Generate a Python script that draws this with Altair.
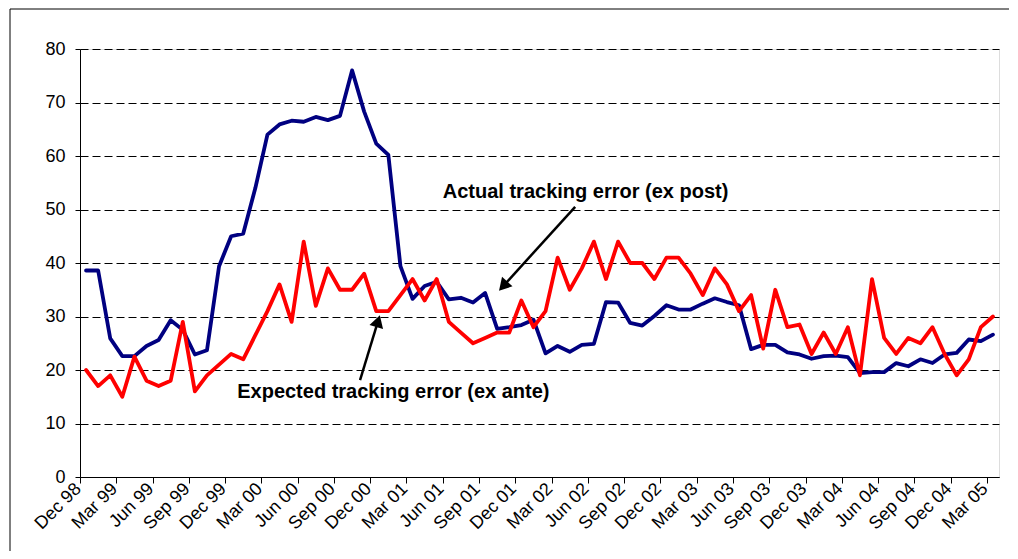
import json
import math
import altair as alt
import pandas as pd

# ---- data ----
tick_labels = ["Dec 98", "Mar 99", "Jun 99", "Sep 99", "Dec 99", "Mar 00", "Jun 00",
               "Sep 00", "Dec 00", "Mar 01", "Jun 01", "Sep 01", "Dec 01", "Mar 02",
               "Jun 02", "Sep 02", "Dec 02", "Mar 03", "Jun 03", "Sep 03", "Dec 03",
               "Mar 04", "Jun 04", "Sep 04", "Dec 04", "Mar 05"]

actual = [38.6, 38.6, 25.9, 22.6, 22.6, 24.5, 25.6, 29.3, 27.5, 22.9, 23.7, 39.4,
          45.0, 45.5, 54.0, 64.0, 65.9, 66.6, 66.4, 67.3, 66.7, 67.5, 76.0, 68.3,
          62.3, 60.2, 39.4, 33.3, 35.7, 36.5, 33.2, 33.5, 32.6, 34.4, 27.7, 28.0,
          28.4, 29.4, 23.1, 24.5, 23.4, 24.7, 24.9, 32.7, 32.6, 28.8, 28.3, 30.1,
          32.1, 31.3, 31.3, 32.4, 33.4, 32.7, 32.1, 23.9, 24.7, 24.7, 23.3, 22.9,
          22.1, 22.6, 22.7, 22.4, 19.4, 19.6, 19.6, 21.3, 20.7, 22.0, 21.3, 22.9,
          23.2, 25.7, 25.4, 26.6]

expected = [20, 17, 19, 15, 22.5, 18, 17, 18, 29, 16, 19, 21,
            23, 22, 26.5, 31, 36, 29, 44, 32, 39, 35, 35, 38,
            31, 31, 34, 37, 33, 37, 29, 27, 25, 26, 27, 27,
            33, 28, 31, 41, 35, 39, 44, 37, 44, 40, 40, 37,
            41, 41, 38, 34, 39, 36, 31, 34, 24, 35, 28, 28.5,
            23, 27, 23, 28, 19, 37, 26, 23, 26, 25, 28, 23,
            19, 22, 28, 30]

series_names = ["Actual tracking error (ex post)", "Expected tracking error (ex ante)"]
series_colors = ["#000080", "#FF0000"]

n = len(actual)
df = pd.DataFrame({
    "i": list(range(n)) * 2,
    "value": actual + expected,
    "series": [series_names[0]] * n + [series_names[1]] * n,
})

# ---- layout ----
W, H = 919, 428
XMIN, XMAX = -0.5, n - 0.5
YMIN, YMAX = 0, 80
px_x = W / (XMAX - XMIN)
px_y = H / (YMAX - YMIN)
FONT = "Arial, Liberation Sans, sans-serif"

# annotations (data coordinates)
labels_df = pd.DataFrame({
    "x": [29.5, 12.5],
    "y": [52.2, 14.7],
    "text": series_names,
})
arrows = [  # tail (x, y) -> tip (x, y)
    (40.45, 50.5, 34.1, 34.7),
    (22.66, 18.1, 24.32, 30.4),
]
HEAD = 200
r = math.sqrt(HEAD) / 2
rule_rows, head_rows = [], []
for x0, y0, x1, y1 in arrows:
    dxp = (x1 - x0) * px_x
    dyp = -(y1 - y0) * px_y
    L = math.hypot(dxp, dyp)
    ux, uy = dxp / L, dyp / L
    ang = math.degrees(math.atan2(ux, -uy)) % 360
    cx = x1 - ux * r / px_x
    cy = y1 + uy * r / px_y
    ex = x1 - ux * 1.6 * r / px_x
    ey = y1 + uy * 1.6 * r / px_y
    rule_rows.append({"x": x0, "y": y0, "x2": ex, "y2": ey})
    head_rows.append({"x": cx, "y": cy, "angle": ang})
rules_df = pd.DataFrame(rule_rows)
heads_df = pd.DataFrame(head_rows)

xscale = alt.Scale(domain=[XMIN, XMAX], nice=False, zero=False)
yscale = alt.Scale(domain=[YMIN, YMAX], nice=False, zero=False)

label_expr = json.dumps(tick_labels) + "[round((datum.value + 0.5) / 3)]"
x_tick_values = [XMIN + 3 * k for k in range(len(tick_labels))]

lines = alt.Chart(df).mark_line(strokeWidth=3.8, strokeJoin="round", strokeCap="round").encode(
    x=alt.X("i:Q", scale=xscale,
            axis=alt.Axis(values=x_tick_values, tickCount=60,
                          labelExpr=label_expr, title=None, grid=False,
                          tickSize=6, tickColor="black", domainColor="black",
                          labelAngle=-45, labelAlign="right", labelBaseline="middle",
                          labelFont=FONT, labelFontSize=18, labelColor="black",
                          labelPadding=3, labelOffset=-2, labelFlush=False,
                          labelOverlap=False)),
    y=alt.Y("value:Q", scale=yscale,
            axis=alt.Axis(values=list(range(0, 81, 10)), tickCount=20, title=None, grid=True,
                          gridDash=[8, 4], gridColor="black", gridWidth=1,
                          tickSize=5, tickColor="black", domainColor="black",
                          labelFont=FONT, labelFontSize=18, labelColor="black",
                          labelPadding=10)),
    color=alt.Color("series:N", scale=alt.Scale(domain=series_names, range=series_colors),
                    legend=None),
)

texts = alt.Chart(labels_df).mark_text(
    font=FONT, fontSize=20, fontWeight="bold", align="left", baseline="alphabetic",
    color="black",
).encode(x=alt.X("x:Q", scale=xscale), y=alt.Y("y:Q", scale=yscale), text="text:N")

arrow_lines = alt.Chart(rules_df).mark_rule(color="black", strokeWidth=2.5).encode(
    x=alt.X("x:Q", scale=xscale), y=alt.Y("y:Q", scale=yscale),
    x2="x2:Q", y2="y2:Q",
)

arrow_heads = alt.Chart(heads_df).mark_point(
    shape="triangle-up", filled=True, color="black", size=HEAD, opacity=1,
).encode(x=alt.X("x:Q", scale=xscale), y=alt.Y("y:Q", scale=yscale),
         angle=alt.Angle("angle:Q", scale=None))

frame = alt.Chart(pd.DataFrame({"a": [0]})).mark_rect(
    fill=None, stroke="black", strokeWidth=1,
).encode(x=alt.value(-70), x2=alt.value(W + 40), y=alt.value(-40), y2=alt.value(H + 200))

chart = alt.layer(lines, texts, arrow_lines, arrow_heads, frame).properties(
    width=W, height=H,
    padding={"left": 72, "top": 41, "right": 10, "bottom": 74},
    autosize=alt.AutoSizeParams(type="none"),
).configure_view(stroke="black", strokeWidth=1).configure(background="white")

chart.save("out.html", embed_options={"renderer": "svg", "actions": False})
